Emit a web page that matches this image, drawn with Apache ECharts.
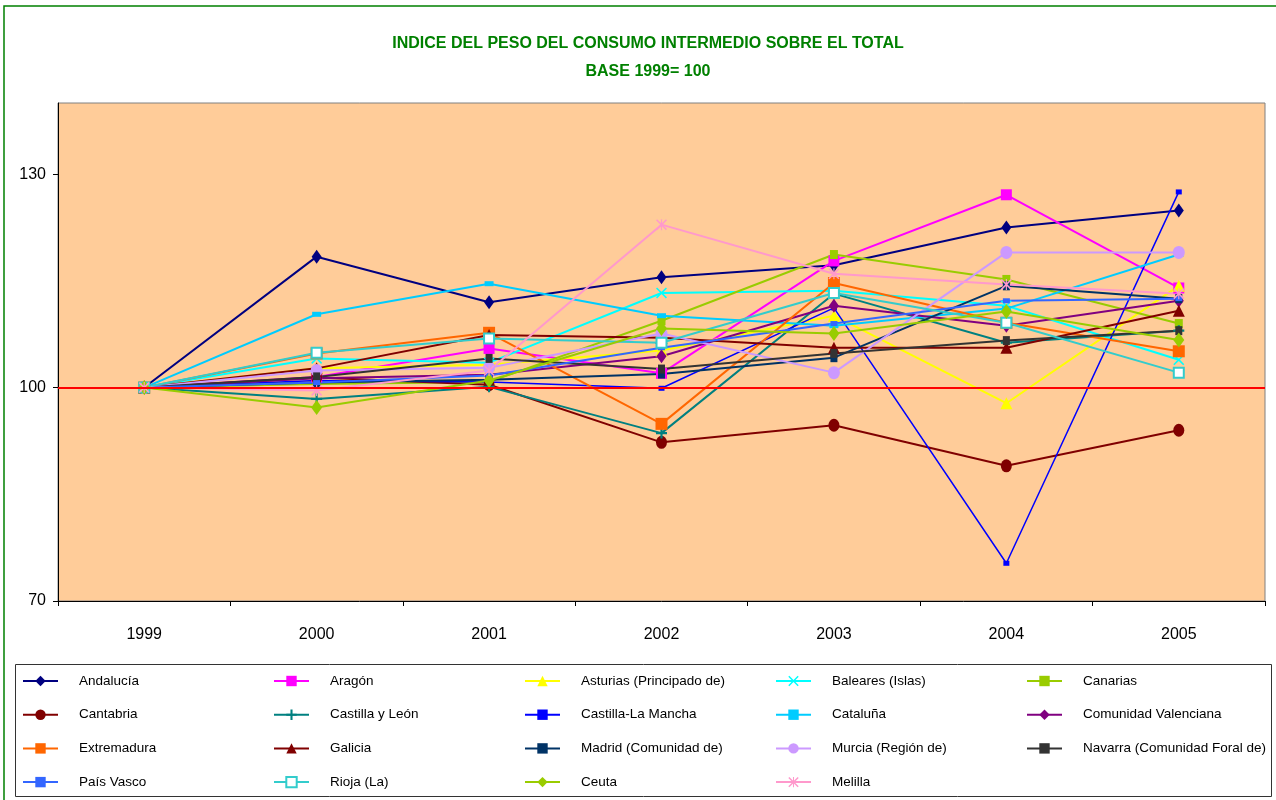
<!DOCTYPE html>
<html>
<head>
<meta charset="utf-8">
<script src="https://cdn.jsdelivr.net/npm/echarts@6/dist/echarts.min.js"></script>
<style>
  html, body { margin: 0; padding: 0; background: #fff; }
  #chart { width: 1276px; height: 800px; }
</style>
</head>
<body>
<div id="chart"></div>
<script>
// Data
const years = ['1999', '2000', '2001', '2002', '2003', '2004', '2005'];
const yTicks = [70, 100, 130];

const andalucia = [100, 118.4, 112.0, 115.5, 117.2, 122.5, 124.9];
const aragon = [100, 101.5, 105.5, 102.0, 117.8, 127.1, 114.0];
const asturias = [100, 102.7, 103.2, 105.2, 110.1, 97.8, 114.3];
const baleares = [100, 104.1, 103.5, 113.3, 113.6, 111.5, 103.9];
const canarias = [100, 100.5, 100.8, 109.4, 118.7, 115.2, 109.0];
const cantabria = [100, 101.4, 100.4, 92.3, 94.7, 89.0, 94.0];
const castillaLeon = [100, 98.4, 100.1, 93.6, 113.2, 106.3, 108.0];
const castillaMancha = [100, 101.0, 100.8, 99.9, 111.2, 75.3, 127.5];
const cataluna = [100, 110.3, 114.6, 110.1, 108.7, 111.1, 118.7];
const valenciana = [100, 101.3, 101.8, 104.4, 111.5, 108.7, 112.2];
const extremadura = [100, 104.8, 107.7, 94.9, 114.7, 109.1, 105.1];
const galicia = [100, 102.7, 107.4, 107.0, 105.6, 105.6, 110.8];
const madrid = [100, 100.7, 101.1, 101.9, 104.2, 114.3, 112.5];
const murcia = [100, 102.4, 102.8, 107.6, 102.1, 119.0, 119.0];
const navarra = [100, 101.5, 104.1, 102.6, 104.8, 106.6, 108.0];
const paisVasco = [100, 100.7, 101.7, 105.6, 109.0, 112.2, 112.5];
const rioja = [100, 104.9, 106.9, 106.3, 113.3, 109.1, 102.1];
const ceuta = [100, 97.2, 101.0, 108.3, 107.6, 110.7, 106.7];
const melilla = [100, 99.6, 102.4, 122.9, 116.0, 114.5, 113.2];

const plusPath = 'path://M4,0H6V4H10V6H6V10H4V6H0V4H4Z';
const crossPath = 'path://M0,1L1,0L5,4L9,0L10,1L6,5L10,9L9,10L5,6L1,10L0,9L4,5Z';
const starPath = 'path://M4.5,0H5.5V10H4.5Z M0,1L1,0L10,9L9,10Z M9,0L10,1L1,10L0,9Z';

const seriesDefs = [
  { name: 'Andalucía', data: andalucia, color: '#000080', symbol: 'diamond', size: [10, 14] },
  { name: 'Aragón', data: aragon, color: '#FF00FF', symbol: 'rect', size: 11 },
  { name: 'Asturias (Principado de)', data: asturias, color: '#FFFF00', symbol: 'triangle', size: 12 },
  { name: 'Baleares (Islas)', data: baleares, color: '#00FFFF', symbol: crossPath, size: 11 },
  { name: 'Canarias', data: canarias, color: '#99CC00', symbol: 'rect', size: [8, 9] },
  { name: 'Cantabria', data: cantabria, color: '#800000', symbol: 'circle', size: [11, 13] },
  { name: 'Castilla y León', data: castillaLeon, color: '#008080', symbol: plusPath, size: 11 },
  { name: 'Castilla-La Mancha', data: castillaMancha, color: '#0000FF', symbol: 'rect', size: [6, 5], width: 1.5 },
  { name: 'Cataluña', data: cataluna, color: '#00CCFF', symbol: 'rect', size: [9, 5] },
  { name: 'Comunidad Valenciana', data: valenciana, color: '#800080', symbol: 'diamond', size: [10, 14] },
  { name: 'Extremadura', data: extremadura, color: '#FF6600', symbol: 'rect', size: 12 },
  { name: 'Galicia', data: galicia, color: '#800000', symbol: 'triangle', size: 12 },
  { name: 'Madrid (Comunidad de)', data: madrid, color: '#003366', symbol: 'rect', size: [7, 9] },
  { name: 'Murcia (Región de)', data: murcia, color: '#CC99FF', symbol: 'circle', size: [12, 13] },
  { name: 'Navarra (Comunidad Foral de)', data: navarra, color: '#333333', symbol: 'rect', size: [7, 9] },
  { name: 'País Vasco', data: paisVasco, color: '#3366FF', symbol: 'rect', size: [7, 5] },
  { name: 'Rioja (La)', data: rioja, color: '#33CCCC', symbol: 'emptyRect', size: 10 },
  { name: 'Ceuta', data: ceuta, color: '#99CC00', symbol: 'diamond', size: [11, 15] },
  { name: 'Melilla', data: melilla, color: '#FF99CC', symbol: starPath, size: 11 }
];

const series = seriesDefs.map((s, i) => {
  const item = {
    name: s.name,
    type: 'line',
    data: s.data,
    symbol: s.symbol,
    symbolSize: s.size,
    showAllSymbol: true,
    animation: false,
    lineStyle: { color: s.color, width: s.width || 2 },
    itemStyle: { color: s.color, borderColor: s.color, borderWidth: s.symbol === 'emptyRect' ? 2 : 0 }
  };
  if (i === 0) {
    item.markLine = {
      silent: true,
      symbol: 'none',
      label: { show: false },
      lineStyle: { color: '#FF0000', width: 2, type: 'solid' },
      data: [{ yAxis: 100 }]
    };
  }
  return item;
});

// legend in 5 columns, filled row by row
const legends = [];
for (let c = 0; c < 5; c++) {
  const names = [];
  for (let r = c; r < seriesDefs.length; r += 5) names.push(seriesDefs[r].name);
  legends.push({
    orient: 'vertical',
    left: 17 + c * 251,
    top: 669,
    itemWidth: 35,
    itemHeight: 13,
    itemGap: 19.7,
    selectedMode: false,
    textStyle: { fontFamily: 'Liberation Sans', fontSize: 13.5, color: '#000', padding: [0, 0, 0, 16] },
    data: names
  });
}

const chart = echarts.init(document.getElementById('chart'));
chart.setOption({
  backgroundColor: '#fff',
  animation: false,
  title: {
    text: 'INDICE DEL PESO DEL CONSUMO INTERMEDIO SOBRE EL TOTAL\nBASE 1999= 100',
    left: 643,
    top: 25,
    textAlign: 'center',
    textStyle: {
      fontFamily: 'Liberation Sans',
      fontWeight: 'bold',
      fontSize: 16,
      lineHeight: 28,
      color: '#008000'
    }
  },
  graphic: [
    { type: 'rect', shape: { x: 4, y: 6, width: 1300, height: 900 }, style: { fill: 'none', stroke: '#008000', lineWidth: 1.5 }, z: -10 },
    { type: 'rect', shape: { x: 15.5, y: 664.5, width: 1256, height: 132 }, style: { fill: '#fff', stroke: '#333', lineWidth: 1 }, z: -5 }
  ],
  legend: legends,
  grid: {
    left: 58, right: 11, top: 103, bottom: 199,
    show: true, backgroundColor: '#FFCC99', borderColor: '#808080', borderWidth: 1
  },
  xAxis: {
    type: 'category',
    data: years,
    boundaryGap: true,
    axisLine: { lineStyle: { color: '#000' } },
    axisTick: { show: true, length: 5, lineStyle: { color: '#000' } },
    axisLabel: { fontFamily: 'Liberation Sans', fontSize: 16, color: '#000', margin: 26 }
  },
  yAxis: {
    type: 'value',
    min: yTicks[0],
    max: 140,
    interval: yTicks[1] - yTicks[0],
    splitLine: { show: false },
    axisLine: { show: true, lineStyle: { color: '#000' } },
    axisTick: { show: true, length: 5, lineStyle: { color: '#000' } },
    axisLabel: { fontFamily: 'Liberation Sans', fontSize: 16, color: '#000', margin: 12, showMaxLabel: false }
  },
  series: series
});
</script>
</body>
</html>
